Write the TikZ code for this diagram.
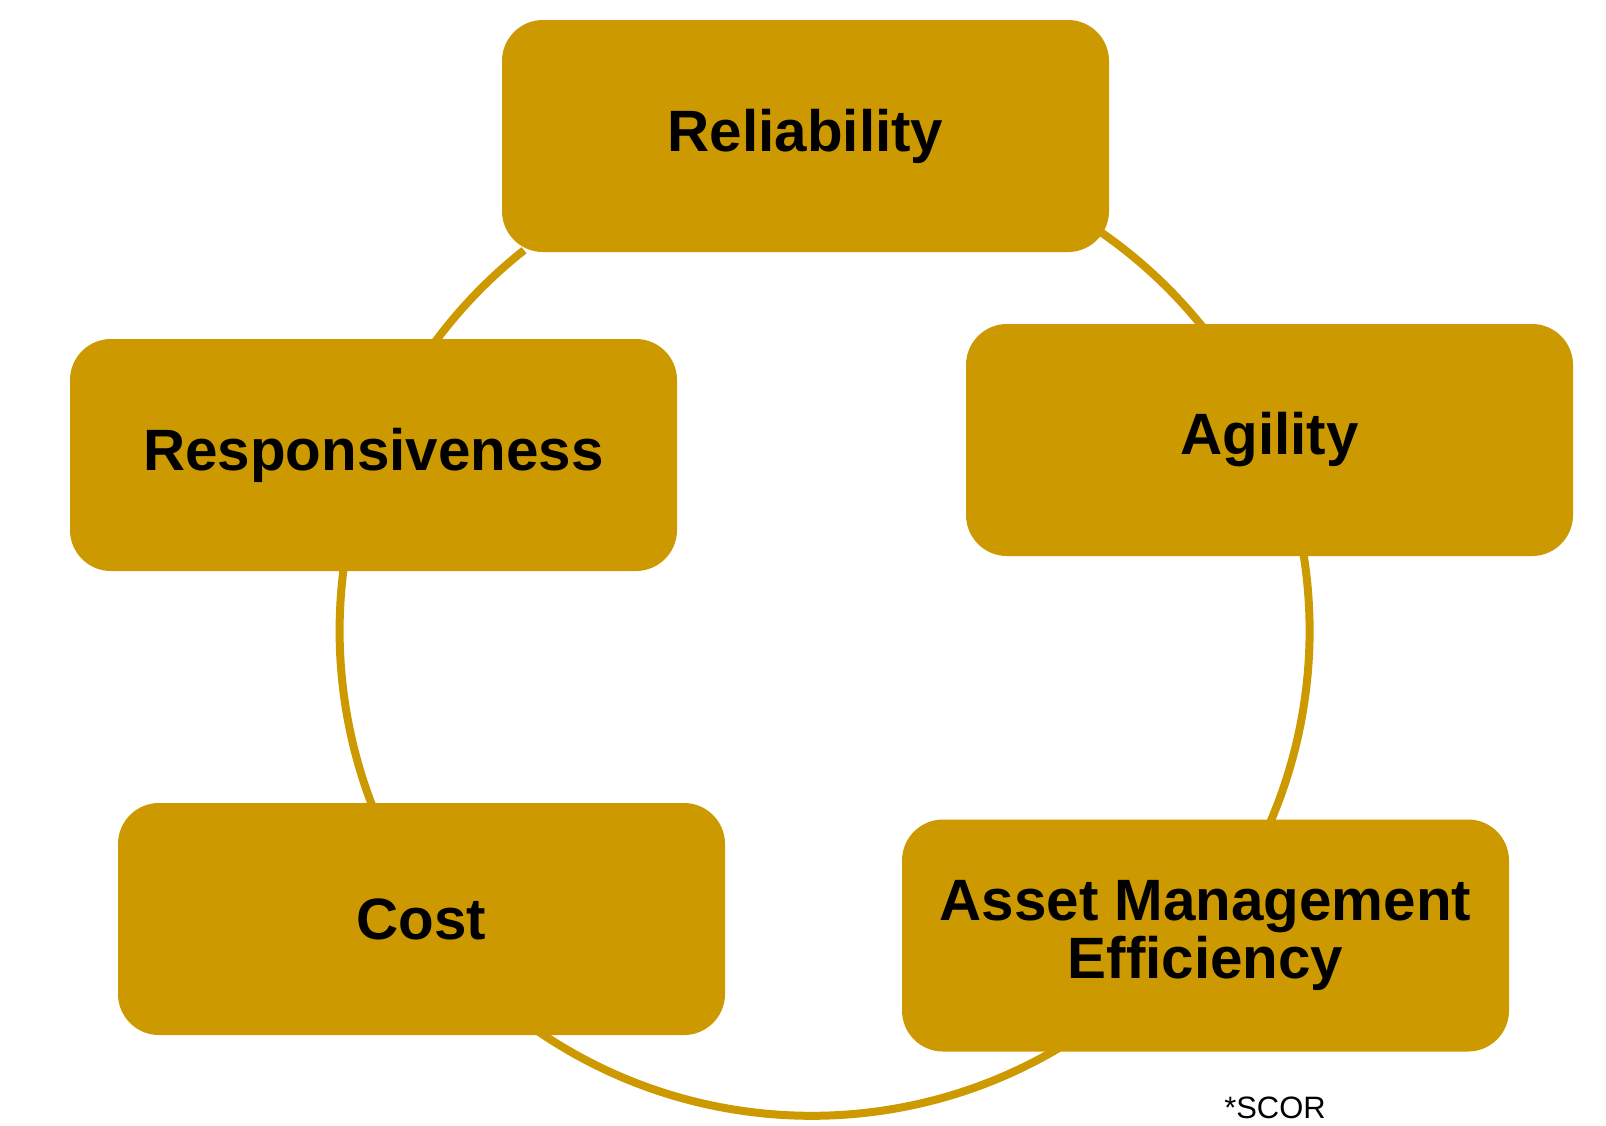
\documentclass[tikz,border=0pt]{standalone}
\usepackage{fontspec}
\setmainfont{Liberation Sans}
\usetikzlibrary{positioning}
\definecolor{gold}{HTML}{CC9900}

\begin{document}
\begin{tikzpicture}[
  metric/.style={fill=gold, rounded corners=0.41cm, align=center,
                 minimum width=6.07cm, minimum height=2.32cm, inner sep=0pt,
                 font=\bfseries\fontsize{16.6}{16.6}\selectfont},
  ring/.style={draw=gold, line width=0.08cm},
  note/.style={anchor=base, inner sep=0pt, font=\fontsize{8.8}{10}\selectfont}
]
  \useasboundingbox (0,0) rectangle (16.06,-11.25);
  \coordinate (hub) at (8.246,-6.308);

  % cycle arcs first, boxes go on top
  \foreach \a/\b/\s in {62/35/0,12/-25/0,-58/-128/-0.13,202/170/0,148/128.3/0}
    \draw[ring] ([shift={(\a:4.85)}, xshift=\s cm]hub) arc[start angle=\a, end angle=\b, radius=4.85];

  \node[metric] (rel) at (8.055,-1.36) {Reliability};
  \node[metric] (agi) at (12.695,-4.40) {Agility};
  \node[metric] (ame) at (12.055,-9.355) {Asset Management\\Efficiency};
  \node[metric] (cost) at (4.215,-9.19) {Cost};
  \node[metric] (resp) at (3.735,-4.55) {Responsiveness};

  \node[note] (scor) at (12.75,-11.18) {*SCOR};
\end{tikzpicture}
\end{document}
